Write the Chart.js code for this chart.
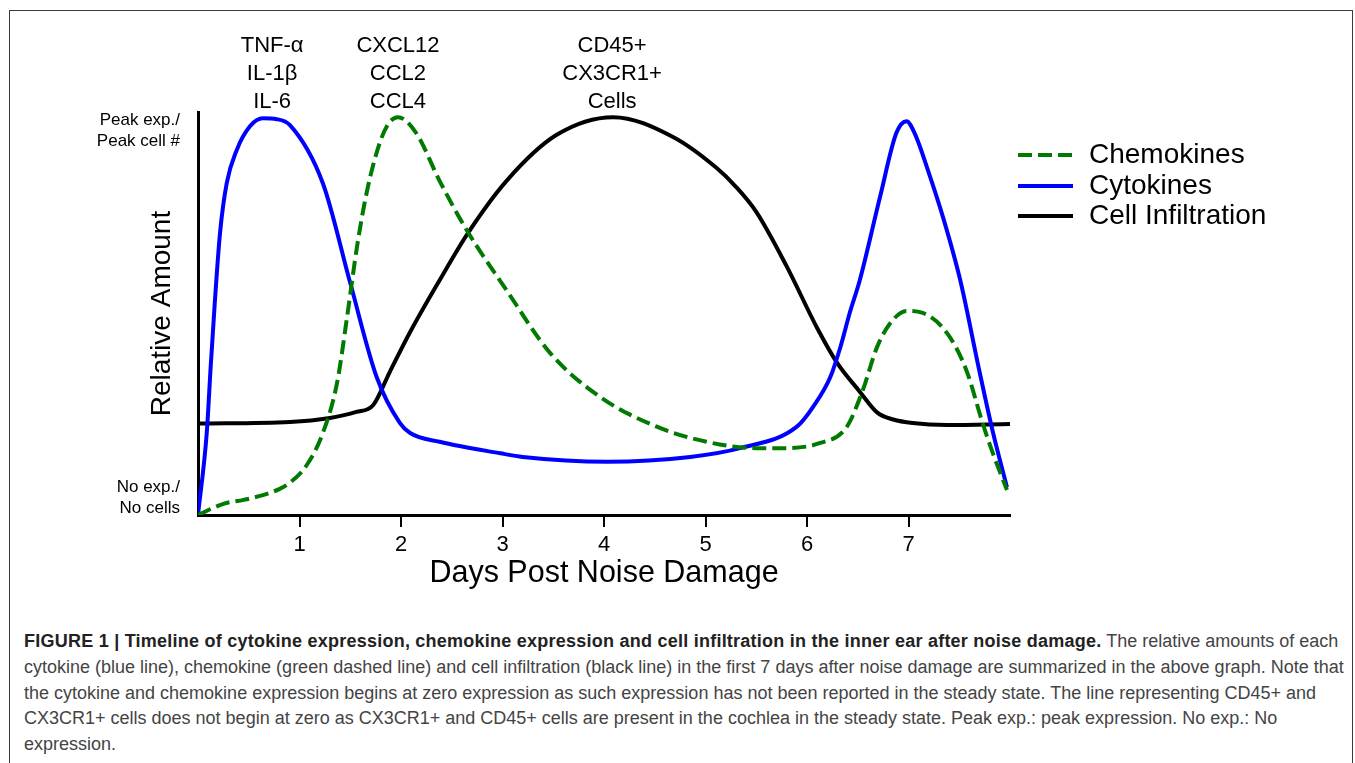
<!DOCTYPE html>
<html lang="en">
<head>
  <meta charset="UTF-8">
  <title>Timeline of cytokine and chemokine expression</title>
  <script src="https://cdn.jsdelivr.net/npm/chart.js"></script>
  <style>
    body { margin: 0; background: #fff; font-family: "Liberation Sans", Arial, sans-serif; }
    #frame { position: absolute; left: 9px; top: 10px; width: 1344px; height: 800px; border: 1.5px solid #3a3a3a; box-sizing: border-box; }
    #chart { position: absolute; left: 0; top: 0; }
    #caption { position: absolute; left: 24px; top: 629px; font-size: 18px; line-height: 25.75px; color: #444; }
    #caption div { white-space: nowrap; }
    #caption b { color: #222; letter-spacing: 0.24px; }
  </style>
</head>
<body>
  <div id="frame"></div>
  <canvas id="chart" width="1355" height="600"></canvas>
  <div id="caption">
    <div><b>FIGURE 1 | Timeline of cytokine expression, chemokine expression and cell infiltration in the inner ear after noise damage.</b> The relative amounts of each</div>
    <div>cytokine (blue line), chemokine (green dashed line) and cell infiltration (black line) in the first 7 days after noise damage are summarized in the above graph. Note that</div>
    <div>the cytokine and chemokine expression begins at zero expression as such expression has not been reported in the steady state. The line representing CD45+ and</div>
    <div>CX3CR1+ cells does not begin at zero as CX3CR1+ and CD45+ cells are present in the cochlea in the steady state. Peak exp.: peak expression. No exp.: No</div>
    <div>expression.</div>
  </div>

  <script>
    // values (x = days, y = relative amount, 0..1)
    const chemokineDays = [0, 0.25, 0.45, 0.64, 0.8, 0.91, 1.07, 1.23, 1.37, 1.47, 1.57, 1.67, 1.79, 1.88, 1.97, 2.15, 2.38, 2.65, 3.04, 3.47, 3.96, 4.52, 5.01, 5.5, 5.73, 6.13, 6.39, 6.55, 6.69, 6.82, 6.98, 7.14, 7.38, 7.57, 7.73, 7.83, 7.97];
    const chemokineValues = [0, 0.028, 0.038, 0.05, 0.065, 0.082, 0.125, 0.206, 0.332, 0.5, 0.68, 0.82, 0.935, 0.985, 1.0, 0.96, 0.84, 0.715, 0.565, 0.407, 0.297, 0.222, 0.184, 0.168, 0.168, 0.181, 0.221, 0.314, 0.422, 0.482, 0.513, 0.508, 0.457, 0.364, 0.231, 0.156, 0.063];

    const cytokineDays = [0, 0.086, 0.125, 0.167, 0.217, 0.283, 0.381, 0.512, 0.64, 0.775, 0.906, 1.23, 1.5, 1.76, 1.99, 2.09, 2.38, 2.98, 3.2, 4.03, 4.85, 5.34, 5.9, 6.06, 6.23, 6.33, 6.42, 6.52, 6.72, 6.88, 6.98, 7.06, 7.2, 7.35, 7.51, 7.7, 7.83, 7.97];
    const cytokineValues = [0, 0.206, 0.373, 0.54, 0.709, 0.834, 0.917, 0.977, 0.997, 0.995, 0.98, 0.834, 0.583, 0.347, 0.231, 0.206, 0.184, 0.155, 0.146, 0.134, 0.146, 0.168, 0.222, 0.272, 0.347, 0.423, 0.507, 0.59, 0.8, 0.96, 0.99, 0.96, 0.86, 0.74, 0.59, 0.36, 0.21, 0.07];

    const cellDays = [0, 0.906, 1.3, 1.56, 1.725, 1.89, 2.09, 2.38, 2.65, 3.04, 3.53, 4.09, 4.68, 5.11, 5.3, 5.5, 5.8, 6.1, 6.29, 6.52, 6.69, 6.85, 7.04, 7.38, 8];
    const cellValues = [0.23, 0.234, 0.244, 0.259, 0.276, 0.36, 0.46, 0.59, 0.705, 0.84, 0.955, 1.0, 0.95, 0.872, 0.825, 0.762, 0.625, 0.47, 0.385, 0.31, 0.258, 0.24, 0.231, 0.226, 0.229];

    const seriesLabels = ['Chemokines', 'Cytokines', 'Cell Infiltration'];
    const seriesColors = ['rgb(0,122,0)', '#0000ff', '#000000'];

    const xTicks = [1, 2, 3, 4, 5, 6, 7];
    const yTickValues = [0.043, 0.966];
    const yTickLabels = [['No exp./', 'No cells'], ['Peak exp./', 'Peak cell #']];

    // labels above the peaks
    const peakLabelDays = [0.73, 1.97, 4.08];
    const peakLabels = [['TNF-α', 'IL-1β', 'IL-6'], ['CXCL12', 'CCL2', 'CCL4'], ['CD45+', 'CX3CR1+', 'Cells']];

    const FONT = '"Liberation Sans", Arial, sans-serif';
    Chart.defaults.font.family = FONT;
    Chart.defaults.color = '#000';

    function points(xs, ys) {
      return xs.map((x, i) => ({ x: x, y: ys[i] }));
    }

    // axis titles, peak labels and legend
    const decorPlugin = {
      id: 'decor',
      afterDraw(chart) {
        const ctx = chart.ctx;
        const area = chart.chartArea;
        const xs = chart.scales.x;
        ctx.save();
        ctx.fillStyle = '#000';

        // axis titles
        ctx.font = '30.5px ' + FONT;
        ctx.textAlign = 'center';
        ctx.textBaseline = 'alphabetic';
        ctx.fillText('Days Post Noise Damage', (area.left + area.right) / 2, area.bottom + 67);
        ctx.save();
        ctx.font = '28px ' + FONT;
        ctx.translate(area.left - 36, (area.top + area.bottom) / 2);
        ctx.rotate(-Math.PI / 2);
        ctx.textBaseline = 'middle';
        ctx.fillText('Relative Amount', 0, 0);
        ctx.restore();

        // peak labels
        ctx.font = '22px ' + FONT;
        ctx.textBaseline = 'alphabetic';
        peakLabels.forEach((lines, i) => {
          const px = xs.getPixelForValue(peakLabelDays[i]);
          lines.forEach((t, j) => {
            ctx.fillText(t, px, area.top - 4 - (lines.length - 1 - j) * 28);
          });
        });

        // legend
        const lx = area.right + 8;
        const rowY = [155, 186, 216];
        ctx.font = '28px ' + FONT;
        ctx.textAlign = 'left';
        ctx.textBaseline = 'middle';
        chart.data.datasets.forEach((ds, i) => {
          const y = rowY[i];
          ctx.beginPath();
          ctx.strokeStyle = ds.borderColor;
          ctx.lineWidth = 4;
          ctx.setLineDash(ds.borderDash || []);
          ctx.moveTo(lx, y);
          ctx.lineTo(lx + 55, y);
          ctx.stroke();
          ctx.setLineDash([]);
          ctx.fillText(ds.label, lx + 71, y);
        });
        ctx.restore();
      }
    };

    const ctx = document.getElementById('chart').getContext('2d');
    new Chart(ctx, {
      type: 'line',
      data: {
        datasets: [
          {
            label: seriesLabels[0],
            data: points(chemokineDays, chemokineValues),
            borderColor: seriesColors[0],
            borderWidth: 4,
            borderDash: [14, 6],
            borderCapStyle: 'butt'
          },
          {
            label: seriesLabels[1],
            data: points(cytokineDays, cytokineValues),
            borderColor: seriesColors[1],
            borderWidth: 4
          },
          {
            label: seriesLabels[2],
            data: points(cellDays, cellValues),
            borderColor: seriesColors[2],
            borderWidth: 4
          }
        ]
      },
      options: {
        responsive: false,
        animation: false,
        devicePixelRatio: 1,
        parsing: false,
        layout: { padding: { left: 0, top: 112, right: 345, bottom: 0 } },
        elements: {
          point: { radius: 0 },
          line: { cubicInterpolationMode: 'monotone', fill: false }
        },
        plugins: {
          legend: { display: false },
          tooltip: { enabled: false }
        },
        scales: {
          x: {
            type: 'linear',
            min: 0,
            max: 8,
            afterFit: function(scale) { scale.height = 85; },
            afterBuildTicks: function(scale) { scale.ticks = xTicks.map(v => ({ value: v })); },
            grid: { drawOnChartArea: false, drawTicks: true, tickLength: 12, lineWidth: 2, color: '#000' },
            border: { display: true, width: 3, color: '#000' },
            ticks: { font: { size: 22 }, padding: 5, maxRotation: 0, autoSkip: false, color: '#000' }
          },
          y: {
            type: 'linear',
            min: 0,
            max: 1.013,
            afterFit: function(scale) { scale.width = 198; },
            afterBuildTicks: function(scale) { scale.ticks = yTickValues.map(v => ({ value: v })); },
            grid: { display: false, drawTicks: false, tickLength: 0 },
            border: { display: true, width: 3, color: '#000' },
            ticks: {
              font: { size: 17, lineHeight: 1.25 },
              padding: 18,
              color: '#000',
              callback: function(value, index) { return yTickLabels[index]; }
            }
          }
        }
      },
      plugins: [decorPlugin]
    });
  </script>
</body>
</html>
